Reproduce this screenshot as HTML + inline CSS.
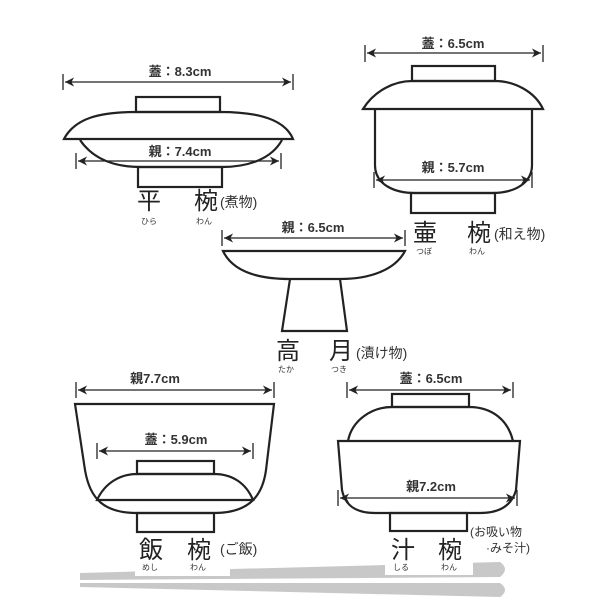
<!DOCTYPE html>
<html><head><meta charset="utf-8"><style>
html,body{margin:0;padding:0;background:#fff;width:616px;height:616px;overflow:hidden}
svg{display:block}
text{font-family:"Liberation Sans","Noto Sans CJK JP",sans-serif;fill:#222}
.d{font-size:13px;font-weight:bold;fill:#333}
.k{font-size:24px}
.s{font-size:14px;fill:#333}
.f{font-size:8px;fill:#333}
</style></head><body>
<svg width="616" height="616" viewBox="0 0 616 616" xmlns="http://www.w3.org/2000/svg">
<defs><marker id="a" viewBox="0 0 10 10" refX="10" refY="5" markerWidth="9" markerHeight="7" orient="auto-start-reverse"><path d="M0,0 L10,5 L0,10 L3,5z" fill="#222"/></marker></defs>
<path d="M80,573 L500,562 Q510,569 500,577 L80,580z" fill="#c8c8c8"/>
<path d="M80,583 L500,583 Q510,590 500,597 L80,587z" fill="#c8c8c8"/>
<rect x="135" y="560" width="95" height="16" fill="#fff"/>
<rect x="385" y="557" width="88" height="18" fill="#fff"/>
<g fill="none" stroke="#222" stroke-width="2.2">
<line x1="65" y1="82" x2="291" y2="82" stroke-width="1.3" marker-start="url(#a)" marker-end="url(#a)"/>
<line x1="63" y1="74" x2="63" y2="90" stroke-width="1.3"/><line x1="293" y1="74" x2="293" y2="90" stroke-width="1.3"/>
<rect x="136" y="97" width="84" height="15"/>
<path d="M64,139 C75,118 100,112 136,112 L220,112 C260,112 285,120 293,139 Z"/>
<path d="M80,140 C95,162 120,167 140,167 L222,167 C250,167 272,158 282,140"/>
<line x1="78" y1="161" x2="279" y2="161" stroke-width="1.3" marker-start="url(#a)" marker-end="url(#a)"/>
<line x1="76" y1="153" x2="76" y2="169" stroke-width="1.3"/><line x1="281" y1="153" x2="281" y2="169" stroke-width="1.3"/>
<rect x="138" y="167" width="84" height="20"/>
<line x1="367" y1="53" x2="541" y2="53" stroke-width="1.3" marker-start="url(#a)" marker-end="url(#a)"/>
<line x1="365" y1="45" x2="365" y2="62" stroke-width="1.3"/><line x1="543" y1="45" x2="543" y2="62" stroke-width="1.3"/>
<rect x="412" y="66" width="83" height="15"/>
<path d="M363,109 C375,90 395,81 412,81 L495,81 C515,81 535,92 543,109 Z"/>
<path d="M375,110 L375,165 C375,185 395,193 415,193 L492,193 C515,193 532,183 532,165 L532,110"/>
<line x1="376" y1="180" x2="530" y2="180" stroke-width="1.3" marker-start="url(#a)" marker-end="url(#a)"/>
<line x1="374" y1="172" x2="374" y2="188" stroke-width="1.3"/><line x1="532" y1="172" x2="532" y2="188" stroke-width="1.3"/>
<rect x="411" y="193" width="84" height="20"/>
<line x1="224" y1="238" x2="403" y2="238" stroke-width="1.3" marker-start="url(#a)" marker-end="url(#a)"/>
<line x1="222" y1="230" x2="222" y2="246" stroke-width="1.3"/><line x1="405" y1="230" x2="405" y2="246" stroke-width="1.3"/>
<path d="M223,251 L405,251 C395,270 370,279 340,279 L290,279 C255,279 232,270 223,251 Z"/>
<path d="M290,279 L282,331 L347,331 L340,279"/>
<line x1="78" y1="390" x2="272" y2="390" stroke-width="1.3" marker-start="url(#a)" marker-end="url(#a)"/>
<line x1="76" y1="382" x2="76" y2="398" stroke-width="1.3"/><line x1="274" y1="382" x2="274" y2="398" stroke-width="1.3"/>
<path d="M75,404 L274,404 L266,470 C262,500 245,513 214,513 L137,513 C105,513 90,500 85,470 Z"/>
<line x1="99" y1="451" x2="251" y2="451" stroke-width="1.3" marker-start="url(#a)" marker-end="url(#a)"/>
<line x1="97" y1="443" x2="97" y2="459" stroke-width="1.3"/><line x1="253" y1="443" x2="253" y2="459" stroke-width="1.3"/>
<rect x="137" y="461" width="77" height="13"/>
<path d="M97,500 C105,483 120,474 137,474 L214,474 C232,474 246,483 253,500 Z"/>
<rect x="137" y="513" width="77" height="19"/>
<line x1="349" y1="390" x2="511" y2="390" stroke-width="1.3" marker-start="url(#a)" marker-end="url(#a)"/>
<line x1="347" y1="382" x2="347" y2="398" stroke-width="1.3"/><line x1="513" y1="382" x2="513" y2="398" stroke-width="1.3"/>
<rect x="392" y="394" width="77" height="13"/>
<path d="M348,441 C352,420 372,407 392,407 L469,407 C492,407 508,420 513,441"/>
<path d="M338,441 L520,441 L516,490 C512,505 500,513 480,513 L375,513 C355,513 345,505 342,490 Z"/>
<line x1="340" y1="498" x2="515" y2="498" stroke-width="1.3" marker-start="url(#a)" marker-end="url(#a)"/>
<line x1="338" y1="490" x2="338" y2="506" stroke-width="1.3"/><line x1="517" y1="490" x2="517" y2="506" stroke-width="1.3"/>
<rect x="390" y="513" width="77" height="18"/>
</g>
<text class="d" x="180" y="76" text-anchor="middle">蓋：8.3cm</text>
<text class="d" x="180" y="156" text-anchor="middle">親：7.4cm</text>
<text class="k" x="137" y="209">平</text><text class="k" x="194" y="209">椀</text><text class="s" x="220" y="207">(煮物)</text>
<text class="f" x="141" y="224">ひら</text><text class="f" x="196" y="224">わん</text>
<text class="d" x="453" y="48" text-anchor="middle">蓋：6.5cm</text>
<text class="d" x="453" y="172" text-anchor="middle">親：5.7cm</text>
<text class="k" x="413" y="241">壷</text><text class="k" x="467" y="241">椀</text><text class="s" x="494" y="239">(和え物)</text>
<text class="f" x="416" y="254">つぼ</text><text class="f" x="469" y="254">わん</text>
<text class="d" x="313" y="232" text-anchor="middle">親：6.5cm</text>
<text class="k" x="276" y="359">高</text><text class="k" x="329" y="359">月</text><text class="s" x="356" y="358">(漬け物)</text>
<text class="f" x="278" y="372">たか</text><text class="f" x="331" y="372">つき</text>
<text class="d" x="155" y="383" text-anchor="middle">親7.7cm</text>
<text class="d" x="176" y="444" text-anchor="middle">蓋：5.9cm</text>
<text class="k" x="139" y="558">飯</text><text class="k" x="187" y="558">椀</text><text class="s" x="220" y="554">(ご飯)</text>
<text class="f" x="142" y="570">めし</text><text class="f" x="190" y="570">わん</text>
<text class="d" x="431" y="383" text-anchor="middle">蓋：6.5cm</text>
<text class="d" x="431" y="491" text-anchor="middle">親7.2cm</text>
<text class="k" x="391" y="558">汁</text><text class="k" x="438" y="558">椀</text>
<text class="s" x="470" y="536" style="font-size:12px">(お吸い物</text><text class="s" x="486" y="552" style="font-size:12px">·みそ汁)</text>
<text class="f" x="393" y="570">しる</text><text class="f" x="441" y="570">わん</text>
</svg>
</body></html>
